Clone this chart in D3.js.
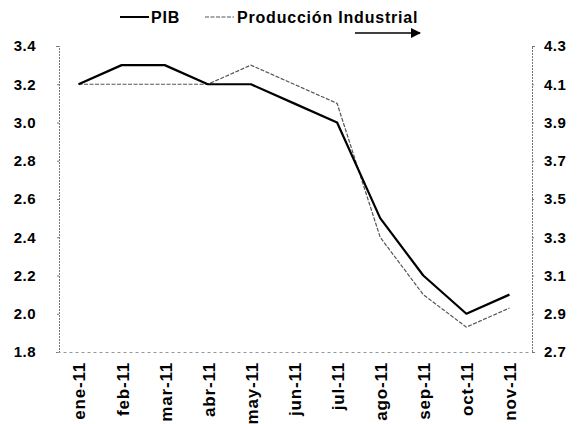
<!DOCTYPE html>
<html>
<head>
<meta charset="utf-8">
<script src="https://cdn.jsdelivr.net/npm/d3@7"></script>
<style>
    body { margin: 0; background: #fff; }
    text { font-family: "Liberation Sans", Arial, sans-serif; font-weight: bold; fill: #000; }
</style>
</head>
<body>
<div id="chart"></div>
<script>
    const months = ['ene-11', 'feb-11', 'mar-11', 'abr-11', 'may-11', 'jun-11',
        'jul-11', 'ago-11', 'sep-11', 'oct-11', 'nov-11'];
    const pib = [3.2, 3.3, 3.3, 3.2, 3.2, 3.1, 3.0, 2.5, 2.2, 2.0, 2.1];
    const produccion = [4.1, 4.1, 4.1, 4.1, 4.2, 4.1, 4.0, 3.3, 3.0, 2.83, 2.93];
    const leftTicks = [1.8, 2.0, 2.2, 2.4, 2.6, 2.8, 3.0, 3.2, 3.4];
    const rightTicks = [2.7, 2.9, 3.1, 3.3, 3.5, 3.7, 3.9, 4.1, 4.3];

    const width = 577, height = 424;
    const margins = { top: 46, bottom: 72, left: 57, right: 46 };

    const svg = d3.select('#chart')
        .append('svg')
        .attr('width', width)
        .attr('height', height);

    //scales
    const x = d3.scaleBand()
        .domain(months)
        .range([margins.left, width - margins.right]);
    const yLeft = d3.scaleLinear()
        .domain([1.8, 3.4])
        .range([height - margins.bottom, margins.top]);
    const yRight = d3.scaleLinear()
        .domain([2.7, 4.3])
        .range([height - margins.bottom, margins.top]);

    //axes
    const axisLeft = svg.append('g')
        .attr('transform', `translate(${margins.left + 2},0)`)
        .call(d3.axisLeft(yLeft).tickValues(leftTicks).tickFormat(d3.format('.1f')).tickSize(3).tickPadding(20));
    const axisRight = svg.append('g')
        .attr('transform', `translate(${width - margins.right + 1},0)`)
        .call(d3.axisRight(yRight).tickValues(rightTicks).tickFormat(d3.format('.1f')).tickSize(3).tickPadding(9));
    const axisBottom = svg.append('g')
        .attr('transform', `translate(0,${height - margins.bottom})`)
        .call(d3.axisBottom(x).tickSize(0).tickPadding(10));

    [axisLeft, axisRight, axisBottom].forEach(a => {
        a.selectAll('path, line')
            .attr('stroke', '#777')
            .attr('stroke-dasharray', '2,1');
        a.selectAll('text')
            .style('font-size', '15px')
            .style('letter-spacing', '0.5px');
    });
    axisBottom.select('.domain').attr('stroke', '#999').attr('stroke-dasharray', '3,3');
    axisBottom.selectAll('text')
        .attr('transform', 'rotate(-90)')
        .attr('x', -10)
        .attr('y', 1)
        .attr('dy', '0.35em')
        .style('font-size', '17px')
        .style('letter-spacing', '0.8px')
        .style('text-anchor', 'end');

    //lines
    const linePib = d3.line()
        .x((d, i) => x(months[i]) + x.bandwidth() / 2)
        .y(d => yLeft(d));
    const lineProd = d3.line()
        .x((d, i) => x(months[i]) + x.bandwidth() / 2)
        .y(d => yRight(d));

    svg.append('path')
        .datum(produccion)
        .attr('d', lineProd)
        .attr('fill', 'none')
        .attr('stroke', '#555')
        .attr('stroke-width', 1.2)
        .attr('stroke-dasharray', '4,1.5');
    svg.append('path')
        .datum(pib)
        .attr('d', linePib)
        .attr('fill', 'none')
        .attr('stroke', '#000')
        .attr('stroke-width', 2.2)
        .attr('stroke-linejoin', 'round');

    //legend
    const legend = svg.append('g').attr('transform', 'translate(0,17)');
    legend.append('line')
        .attr('x1', 120).attr('x2', 149).attr('y1', 0).attr('y2', 0)
        .attr('stroke', '#000').attr('stroke-width', 2);
    legend.append('text')
        .attr('x', 151).attr('y', 0).attr('dy', '0.35em')
        .style('font-size', '16px')
        .style('letter-spacing', '0.8px')
        .text('PIB');
    legend.append('line')
        .attr('x1', 205).attr('x2', 234).attr('y1', 0).attr('y2', 0)
        .attr('stroke', '#555').attr('stroke-width', 1.2)
        .attr('stroke-dasharray', '4,1.5');
    legend.append('text')
        .attr('x', 237).attr('y', 0).attr('dy', '0.35em')
        .style('font-size', '16px')
        .style('letter-spacing', '0.8px')
        .text('Producción Industrial');

    //arrow
    svg.append('defs').append('marker')
        .attr('id', 'arrow')
        .attr('viewBox', '0 0 10 10')
        .attr('refX', 9).attr('refY', 5)
        .attr('markerWidth', 7).attr('markerHeight', 7)
        .attr('orient', 'auto')
        .append('path')
        .attr('d', 'M0,0 L10,5 L0,10 z')
        .attr('fill', '#000');
    svg.append('line')
        .attr('x1', 355).attr('x2', 420).attr('y1', 33).attr('y2', 33)
        .attr('stroke', '#000').attr('stroke-width', 1.5)
        .attr('marker-end', 'url(#arrow)');
</script>
</body>
</html>
